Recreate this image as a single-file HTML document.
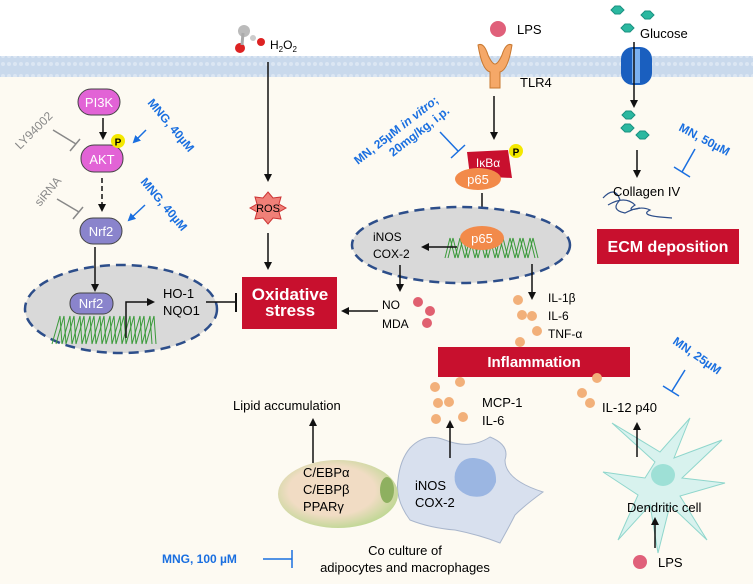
<!DOCTYPE html>
<html><head><meta charset="utf-8"><style>
html,body{margin:0;padding:0;background:#fff}
svg{display:block}
text{font-family:"Liberation Sans",sans-serif}
</style></head><body>
<svg width="753" height="584" viewBox="0 0 753 584" xmlns="http://www.w3.org/2000/svg">
<defs>
<marker id="ah" markerWidth="8" markerHeight="8" refX="6" refY="4" orient="auto" markerUnits="userSpaceOnUse"><path d="M0,0 L8,4 L0,8 Z" fill="#111"/></marker>
<marker id="ahb" markerWidth="8" markerHeight="8" refX="6" refY="4" orient="auto" markerUnits="userSpaceOnUse"><path d="M0,0 L8,4 L0,8 Z" fill="#1a6fe0"/></marker>
<pattern id="mem" width="6" height="20" patternUnits="userSpaceOnUse"><rect width="6" height="20" fill="#c9d9ec"/><circle cx="3" cy="4" r="2" fill="#dbe6f3"/><circle cx="3" cy="16" r="2" fill="#dbe6f3"/></pattern>
<radialGradient id="adip" cx="0.45" cy="0.45" r="0.6"><stop offset="0.6" stop-color="#f1dcc4"/><stop offset="1" stop-color="#b9d78e"/></radialGradient>
</defs>
<rect width="753" height="584" fill="#fdfaf2"/>
<rect width="753" height="58" fill="#fff"/>
<rect x="0" y="56" width="753" height="21" fill="url(#mem)"/>

<!-- Left pathway -->
<rect x="78" y="89" width="42" height="26" rx="13" fill="#e263d6" stroke="#444" stroke-width="1"/>
<text x="99" y="107" font-size="13" fill="#fff" text-anchor="middle">PI3K</text>
<line x1="103" y1="118" x2="103" y2="138" stroke="#111" stroke-width="1.5" marker-end="url(#ah)"/>
<rect x="81" y="145" width="42" height="27" rx="13" fill="#e263d6" stroke="#444" stroke-width="1"/>
<text x="102" y="164" font-size="13" fill="#fff" text-anchor="middle">AKT</text>
<circle cx="118" cy="141" r="7" fill="#f4e800"/><text x="118" y="145.5" font-size="10" font-weight="bold" text-anchor="middle">P</text>
<text transform="translate(20,150) rotate(-45)" font-size="12" fill="#888">LY94002</text>
<line x1="53" y1="130" x2="76" y2="144" stroke="#888" stroke-width="1.5"/><line x1="70" y1="151" x2="80" y2="139" stroke="#888" stroke-width="1.5"/>
<text transform="translate(147,103) rotate(50)" font-size="12" font-weight="bold" fill="#1a6fe0">MNG, 40µM</text>
<line x1="146" y1="130" x2="134" y2="142" stroke="#1a6fe0" stroke-width="1.5" marker-end="url(#ahb)"/>
<line x1="102" y1="178" x2="102" y2="210" stroke="#111" stroke-width="1.5" stroke-dasharray="5,3" marker-end="url(#ah)"/>
<text transform="translate(40,207) rotate(-50)" font-size="12" fill="#888">siRNA</text>
<line x1="57" y1="199" x2="79" y2="212" stroke="#888" stroke-width="1.5"/><line x1="73" y1="219" x2="83" y2="207" stroke="#888" stroke-width="1.5"/>
<text transform="translate(140,182) rotate(50)" font-size="12" font-weight="bold" fill="#1a6fe0">MNG, 40µM</text>
<line x1="145" y1="205" x2="129" y2="220" stroke="#1a6fe0" stroke-width="1.5" marker-end="url(#ahb)"/>
<rect x="80" y="218" width="42" height="26" rx="13" fill="#8a84cc" stroke="#444" stroke-width="1"/>
<text x="101" y="236" font-size="13" fill="#fff" text-anchor="middle">Nrf2</text>

<ellipse cx="121" cy="309" rx="96" ry="44" fill="#d9d9d9" stroke="#2d4e8a" stroke-width="2.5" stroke-dasharray="10,6"/>
<line x1="95" y1="247" x2="95" y2="290" stroke="#111" stroke-width="1.5" marker-end="url(#ah)"/>
<g stroke="#3a9a3a" stroke-width="1" fill="none">
<path d="M52,344 l8,-28 l2,28 l8,-28 l2,28 l8,-28 l2,28 l8,-28 l2,28 l8,-28 l2,28 l8,-28 l2,28 l8,-28 l2,28 l8,-28 l2,28 l8,-28 l2,28 l8,-28 l2,28"/>
<path d="M56,344 l8,-28 l2,28 l8,-28 l2,28 l8,-28 l2,28 l8,-28 l2,28 l8,-28 l2,28 l8,-28 l2,28 l8,-28 l2,28 l8,-28 l2,28 l8,-28 l2,28 l8,-28 l2,28"/>
</g>
<rect x="70" y="293" width="43" height="21" rx="10" fill="#8a84cc" stroke="#444" stroke-width="1"/>
<text x="91" y="308" font-size="13" fill="#fff" text-anchor="middle">Nrf2</text>
<path d="M126,338 V302 H153" stroke="#111" stroke-width="1.5" fill="none" marker-end="url(#ah)"/>
<text x="163" y="298" font-size="13">HO-1</text>
<text x="163" y="315" font-size="13">NQO1</text>
<line x1="206" y1="302" x2="236" y2="302" stroke="#111" stroke-width="1.5"/><line x1="236" y1="293" x2="236" y2="312" stroke="#111" stroke-width="2"/>

<rect x="242" y="277" width="95" height="52" fill="#c8102e"/>
<text x="290" y="300" font-size="17" font-weight="bold" fill="#fff" text-anchor="middle">Oxidative</text>
<text x="290" y="316" font-size="17" font-weight="bold" fill="#fff" text-anchor="middle">stress</text>

<!-- H2O2 -->
<circle cx="244" cy="31" r="6" fill="#bbb"/><circle cx="253" cy="38" r="3" fill="#ccc"/><circle cx="240" cy="48" r="5" fill="#d22"/><circle cx="261" cy="42" r="4" fill="#d22"/><line x1="243" y1="33" x2="242" y2="45" stroke="#aaa" stroke-width="3"/>
<text x="270" y="49" font-size="12">H<tspan font-size="8" dy="3">2</tspan><tspan dy="-3">O</tspan><tspan font-size="8" dy="3">2</tspan></text>
<line x1="268" y1="62" x2="268" y2="180" stroke="#111" stroke-width="1.5" marker-end="url(#ah)"/>
<polygon points="268,192 273,198 281,197 279,204 286,208 279,212 281,219 273,218 268,224 263,218 255,219 257,212 250,208 257,204 255,197 263,198" fill="#f08078" stroke="#c33" stroke-width="1"/>
<text x="268" y="212" font-size="11" text-anchor="middle">ROS</text>
<line x1="268" y1="233" x2="268" y2="268" stroke="#111" stroke-width="1.5" marker-end="url(#ah)"/>
<line x1="378" y1="311" x2="343" y2="311" stroke="#111" stroke-width="1.5" marker-end="url(#ah)"/>

<!-- TLR4 pathway -->
<circle cx="498" cy="29" r="8" fill="#e0607a"/>
<text x="517" y="34" font-size="13">LPS</text>
<path d="M478,45 Q482,70 490,72 L490,88 L500,88 L500,72 Q508,70 512,45 Q506,42 502,55 Q498,64 495,64 Q492,64 488,55 Q484,42 478,45Z" fill="#f5a868" stroke="#c87830" stroke-width="1"/>
<text x="520" y="87" font-size="13">TLR4</text>
<line x1="494" y1="96" x2="494" y2="138" stroke="#111" stroke-width="1.5" marker-end="url(#ah)"/>
<path d="M467,152 L508,150 L512,178 L470,176 Z" fill="#c8102e"/>
<text x="488" y="167" font-size="12" fill="#fff" text-anchor="middle">IκBα</text>
<circle cx="516" cy="151" r="7" fill="#f4e800"/><text x="516" y="155.5" font-size="10" font-weight="bold" text-anchor="middle">P</text>
<ellipse cx="478" cy="179" rx="23" ry="11" fill="#f28a4a"/>
<text x="478" y="184" font-size="13" fill="#fff" text-anchor="middle">p65</text>
<text transform="translate(358,165) rotate(-38)" font-size="12" font-weight="bold" fill="#1a6fe0">MN, 25µM <tspan font-style="italic">in vitro</tspan>;</text>
<text transform="translate(393,157) rotate(-38)" font-size="12" font-weight="bold" fill="#1a6fe0">20mg/kg, i.p.</text>
<line x1="440" y1="132" x2="458" y2="151" stroke="#1a6fe0" stroke-width="1.5"/><line x1="451" y1="158" x2="465" y2="145" stroke="#1a6fe0" stroke-width="1.5"/>
<line x1="482" y1="193" x2="482" y2="226" stroke="#111" stroke-width="1.5" marker-end="url(#ah)"/>

<ellipse cx="461" cy="245" rx="109" ry="38" fill="#d9d9d9" stroke="#2d4e8a" stroke-width="2.5" stroke-dasharray="10,6"/>
<g stroke="#3a9a3a" stroke-width="1" fill="none">
<path d="M445,258 l5,-20 l5,20 l5,-20 l5,20 l5,-20 l5,20 l5,-20 l5,20 l5,-20 l5,20 l5,-20 l5,20 l5,-20 l5,20 l5,-20 l5,20 l5,-20 l5,20"/>
<path d="M448,258 l5,-20 l5,20 l5,-20 l5,20 l5,-20 l5,20 l5,-20 l5,20 l5,-20 l5,20 l5,-20 l5,20 l5,-20 l5,20 l5,-20 l5,20 l5,-20 l5,20"/>
</g>
<ellipse cx="482" cy="238" rx="22" ry="12" fill="#f28a4a"/>
<text x="482" y="243" font-size="13" fill="#fff" text-anchor="middle">p65</text>
<text x="373" y="241" font-size="12">iNOS</text>
<text x="373" y="258" font-size="12">COX-2</text>
<line x1="457" y1="247" x2="423" y2="247" stroke="#111" stroke-width="1.5" marker-end="url(#ah)"/>
<line x1="400" y1="265" x2="400" y2="290" stroke="#111" stroke-width="1.5" marker-end="url(#ah)"/>
<line x1="532" y1="264" x2="532" y2="298" stroke="#111" stroke-width="1.5" marker-end="url(#ah)"/>
<text x="382" y="309" font-size="12">NO</text>
<text x="382" y="328" font-size="12">MDA</text>
<circle cx="418" cy="302" r="5" fill="#e06070"/><circle cx="430" cy="311" r="5" fill="#e06070"/><circle cx="427" cy="323" r="5" fill="#e06070"/>
<text x="548" y="302" font-size="12">IL-1β</text>
<text x="548" y="320" font-size="12">IL-6</text>
<text x="548" y="338" font-size="12">TNF-α</text>
<g fill="#f2b07a"><circle cx="518" cy="300" r="5"/><circle cx="522" cy="315" r="5"/><circle cx="532" cy="316" r="5"/><circle cx="537" cy="331" r="5"/><circle cx="520" cy="342" r="5"/></g>
<rect x="438" y="347" width="192" height="30" fill="#c8102e"/>
<text x="534" y="367" font-size="15" font-weight="bold" fill="#fff" text-anchor="middle">Inflammation</text>

<!-- Glucose -->
<g fill="#2bb8a0" stroke="#1a9080" stroke-width="1">
<polygon points="611,10 615,6 620,6 624,10 620,14 615,14"/>
<polygon points="641,15 645,11 650,11 654,15 650,19 645,19"/>
<polygon points="621,28 625,24 630,24 634,28 630,32 625,32"/>
<polygon points="622,115 626,111 631,111 635,115 631,119 626,119"/>
<polygon points="621,128 625,124 630,124 634,128 630,132 625,132"/>
<polygon points="636,135 640,131 645,131 649,135 645,139 640,139"/>
</g>
<text x="640" y="38" font-size="13">Glucose</text>
<rect x="621" y="47" width="31" height="38" rx="12" fill="#1a5fbf"/>
<rect x="632" y="49" width="8" height="34" fill="#7ab0f0"/>
<line x1="634" y1="42" x2="634" y2="106" stroke="#111" stroke-width="1.5" marker-end="url(#ah)"/>
<line x1="637" y1="150" x2="637" y2="176" stroke="#111" stroke-width="1.5" marker-end="url(#ah)"/>
<text transform="translate(678,130) rotate(28)" font-size="12" font-weight="bold" fill="#1a6fe0">MN, 50µM</text>
<line x1="695" y1="149" x2="682" y2="172" stroke="#1a6fe0" stroke-width="1.5"/><line x1="674" y1="167" x2="690" y2="177" stroke="#1a6fe0" stroke-width="1.5"/>
<path d="M603,198 Q615,185 620,200 Q610,210 625,213 Q640,205 650,210 Q640,215 660,217 L672,218" stroke="#2d4e8a" stroke-width="1.2" fill="none"/>
<path d="M608,205 Q625,195 635,205 Q625,212 640,208" stroke="#2d4e8a" stroke-width="1.2" fill="none"/>
<text x="613" y="196" font-size="13">Collagen IV</text>
<rect x="597" y="229" width="142" height="35" fill="#c8102e"/>
<text x="668" y="252" font-size="16" font-weight="bold" fill="#fff" text-anchor="middle">ECM deposition</text>

<!-- Bottom -->
<g fill="#f2b07a"><circle cx="435" cy="387" r="5"/><circle cx="460" cy="382" r="5"/><circle cx="438" cy="403" r="5"/><circle cx="449" cy="402" r="5"/><circle cx="436" cy="419" r="5"/><circle cx="463" cy="417" r="5"/><circle cx="597" cy="378" r="5"/><circle cx="582" cy="393" r="5"/><circle cx="590" cy="403" r="5"/></g>
<text x="482" y="407" font-size="13">MCP-1</text>
<text x="482" y="425" font-size="13">IL-6</text>
<text x="233" y="410" font-size="13">Lipid accumulation</text>
<path d="M410,448 Q425,432 445,440 Q470,450 490,437 Q510,445 505,460 Q505,480 543,492 Q525,505 515,515 Q510,525 500,543 Q480,535 455,530 Q430,528 410,520 Q395,500 398,480 Q400,460 410,448Z" fill="#d8e0ee" stroke="#a9b6cc" stroke-width="1"/>
<path d="M474,458 Q497,460 496,482 Q490,500 470,496 Q452,490 455,473 Q460,457 474,458Z" fill="#9bb6e2"/>
<ellipse cx="338" cy="494" rx="60" ry="34" fill="url(#adip)"/>
<ellipse cx="387" cy="490" rx="7" ry="13" fill="#8eb060"/>
<line x1="313" y1="463" x2="313" y2="420" stroke="#111" stroke-width="1.5" marker-end="url(#ah)"/>
<line x1="450" y1="458" x2="450" y2="422" stroke="#111" stroke-width="1.5" marker-end="url(#ah)"/>
<text x="303" y="477" font-size="13">C/EBPα</text>
<text x="303" y="494" font-size="13">C/EBPβ</text>
<text x="303" y="511" font-size="13">PPARγ</text>
<text x="415" y="490" font-size="13">iNOS</text>
<text x="415" y="507" font-size="13">COX-2</text>
<text x="405" y="555" font-size="13" text-anchor="middle">Co culture of</text>
<text x="405" y="572" font-size="13" text-anchor="middle">adipocytes and macrophages</text>
<text x="162" y="563" font-size="12" font-weight="bold" fill="#1a6fe0">MNG, 100 µM</text>
<line x1="263" y1="559" x2="292" y2="559" stroke="#1a6fe0" stroke-width="1.5"/><line x1="292" y1="550" x2="292" y2="568" stroke="#1a6fe0" stroke-width="1.5"/>

<!-- Dendritic -->
<path d="M655,462 L612,423 L660,452 L690,418 L674,458 L722,440 L682,478 L725,483 L680,496 L707,540 L670,505 L658,553 L650,505 L618,540 L638,495 L603,472 L645,478 Z" fill="#d8f2ee" stroke="#8fd6cc" stroke-width="1"/>
<ellipse cx="663" cy="475" rx="12" ry="11" fill="#9ee0d6"/>
<text x="627" y="512" font-size="13">Dendritic cell</text>
<text x="602" y="412" font-size="13">IL-12 p40</text>
<line x1="637" y1="457" x2="637" y2="424" stroke="#111" stroke-width="1.5" marker-end="url(#ah)"/>
<line x1="655" y1="548" x2="655" y2="519" stroke="#111" stroke-width="1.5" marker-end="url(#ah)"/>
<circle cx="640" cy="562" r="7" fill="#e0607a"/>
<text x="658" y="567" font-size="13">LPS</text>
<text transform="translate(672,343) rotate(35)" font-size="12" font-weight="bold" fill="#1a6fe0">MN, 25µM</text>
<line x1="685" y1="370" x2="672" y2="391" stroke="#1a6fe0" stroke-width="1.5"/><line x1="663" y1="386" x2="679" y2="396" stroke="#1a6fe0" stroke-width="1.5"/>
</svg>
</body></html>
